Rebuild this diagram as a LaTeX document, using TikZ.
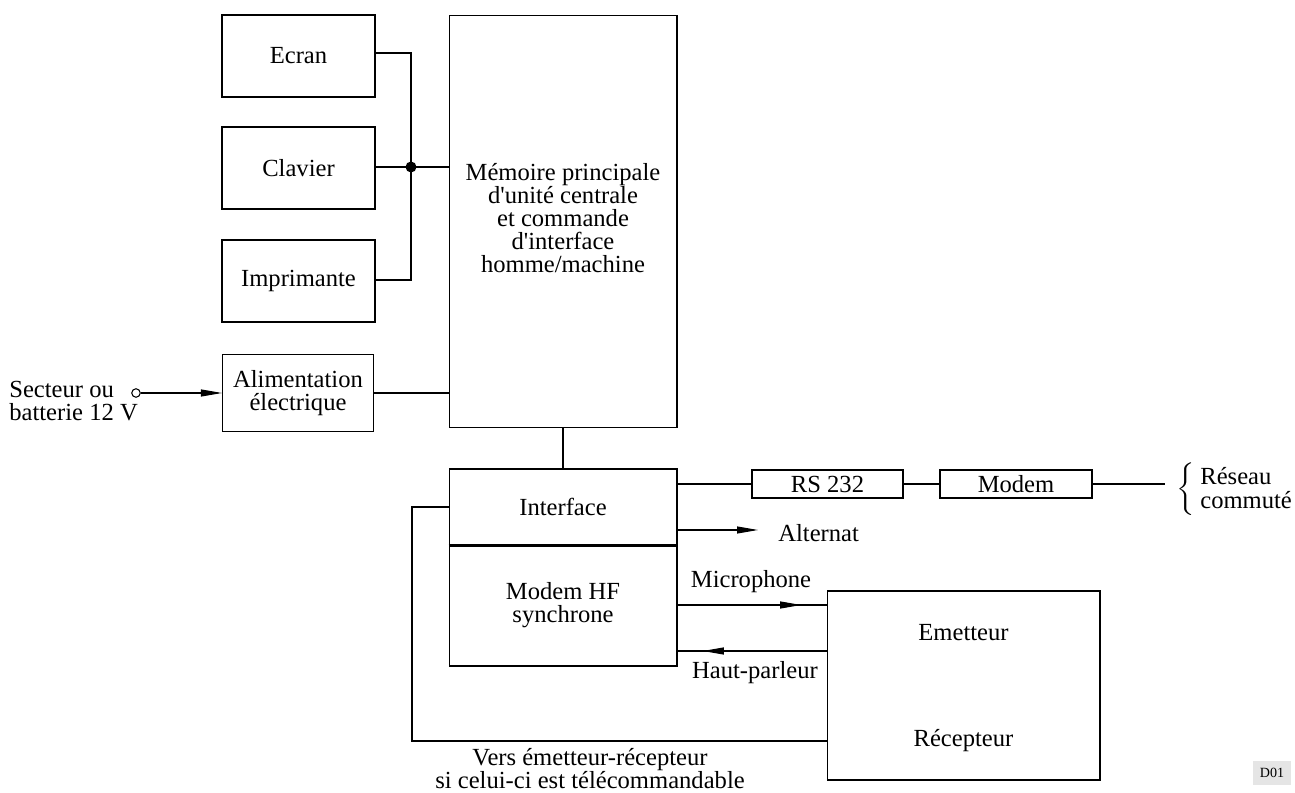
\documentclass[tikz,border=0pt]{standalone}
\usepackage{fontspec}
\setmainfont{Liberation Serif}
\usetikzlibrary{arrows.meta,decorations.markings}
\lineskiplimit=-20pt
\tikzset{
  every node/.style={font=\fontsize{14}{13.2}\selectfont},
  box/.style={draw, line width=0.6pt, inner sep=0pt, align=center},
  wire/.style={line width=0.6pt},
  arr/.style={wire, -{Triangle[length=0.42cm,width=0.14cm]}},
  midarr/.style={wire, postaction={decorate}, decoration={markings,
     mark=at position 0.83 with {\arrow{Triangle[length=0.42cm,width=0.14cm]}}}},
  txt/.style={align=center, inner sep=0pt},
}
\begin{document}
\begin{tikzpicture}[x=0.02cm,y=-0.02cm]
\useasboundingbox (0,0) rectangle (1295,793);
% left boxes
\node[box, minimum width=3.06cm, minimum height=1.64cm] (ecran) at (298.5,56) {Ecran};
\node[box, minimum width=3.06cm, minimum height=1.64cm] (clav) at (298.5,168) {Clavier};
\node[box, minimum width=3.06cm, minimum height=1.64cm] (imp) at (298.5,281) {Imprimante};
\node[box, minimum width=3.02cm, minimum height=1.54cm] (alim) at (298,393) {Alimentation\\électrique};
% main memory
\node[box, minimum width=4.56cm, minimum height=8.26cm] (mem) at (563,221.5) {};
\node[txt] (memtxt) at (563,218) {Mémoire principale\\d\textquotesingle unité centrale\\et commande\\d\textquotesingle interface\\homme/machine};
% interface / modem HF
\node[box, minimum width=4.56cm, minimum height=1.52cm] (iface) at (563,507) {Interface};
\node[box, minimum width=4.56cm, minimum height=2.42cm] (mhf) at (563,605.5) {Modem HF\\synchrone};
\draw[line width=1.2pt] (iface.south west) -- (iface.south east);
% RS232 / modem
\node[box, minimum width=3.02cm, minimum height=0.56cm] (rs) at (827.5,484) {RS 232};
\node[box, minimum width=3.04cm, minimum height=0.56cm] (modem) at (1016,484) {Modem};
% emetteur
\node[box, minimum width=5.46cm, minimum height=3.78cm] (emet) at (963.5,685.5) {};
\node[txt] (emtxt) at (963.5,633) {Emetteur};
\node[txt] (rectxt) at (963.5,741) {Récepteur};
% bus
\coordinate (bus) at (411,167);
\draw[wire] (ecran.east |- 0,53) -| (bus) |- (imp.east |- 0,280);
\draw[wire] (clav.east |- bus) -- (mem.west |- bus);
\node[circle, fill, inner sep=0pt, minimum size=0.22cm] (dot) at (bus) {};
% power
\node[circle, draw, line width=0.6pt, inner sep=0pt, minimum size=0.17cm] (src) at (136,393) {};
\node[anchor=west, align=left, inner sep=0pt] (sect) at (9,401) {Secteur ou\\batterie 12 V};
\draw[arr] (src) -- (alim.west);
\draw[wire] (alim.east) -- (alim.east -| mem.west);
% mem to interface
\draw[wire] (mem.south) -- (iface.north);
% rs232 chain
\coordinate (netend) at (1165,484);
\draw[wire] (iface.east |- rs.west) -- (rs.west);
\draw[wire] (rs.east) -- (modem.west);
\draw[wire] (modem.east) -- (netend);
\node[inner sep=0pt, xscale=1.3] (brace) at (1187,489) {$\left\{\vcenter{\hbox{\rule{0pt}{1.0cm}}}\right.$};
\node[anchor=west, align=left, inner sep=0pt] (net) at (1200,488) {Réseau\\commuté};
% alternat
\coordinate (altend) at (758,530);
\draw[arr] (iface.east |- altend) -- (altend);
\node[anchor=west, inner sep=0pt] (alt) at (778,533) {Alternat};
% microphone / haut-parleur
\draw[midarr] (mhf.east |- 0,605) -- (emet.west |- 0,605);
\draw[midarr] (emet.west |- 0,651) -- (mhf.east |- 0,651);
\node[inner sep=0pt] (mic) at (751,582) {Microphone};
\node[inner sep=0pt] (hp) at (755,673) {Haut-parleur};
% feedback
\coordinate (fbA) at (412,507);
\coordinate (fbB) at (412,741);
\draw[wire] (iface.west) -- (fbA) -- (fbB) -- (fbB -| emet.west);
\node[txt, anchor=north] (vers) at (590,748) {Vers émetteur-récepteur\\si celui-ci est télécommandable};
% tag
\node[fill=black!10, inner sep=4pt, font=\fontsize{8}{9}\selectfont] (tag) at (1272,773) {D01};
\end{tikzpicture}
\end{document}
